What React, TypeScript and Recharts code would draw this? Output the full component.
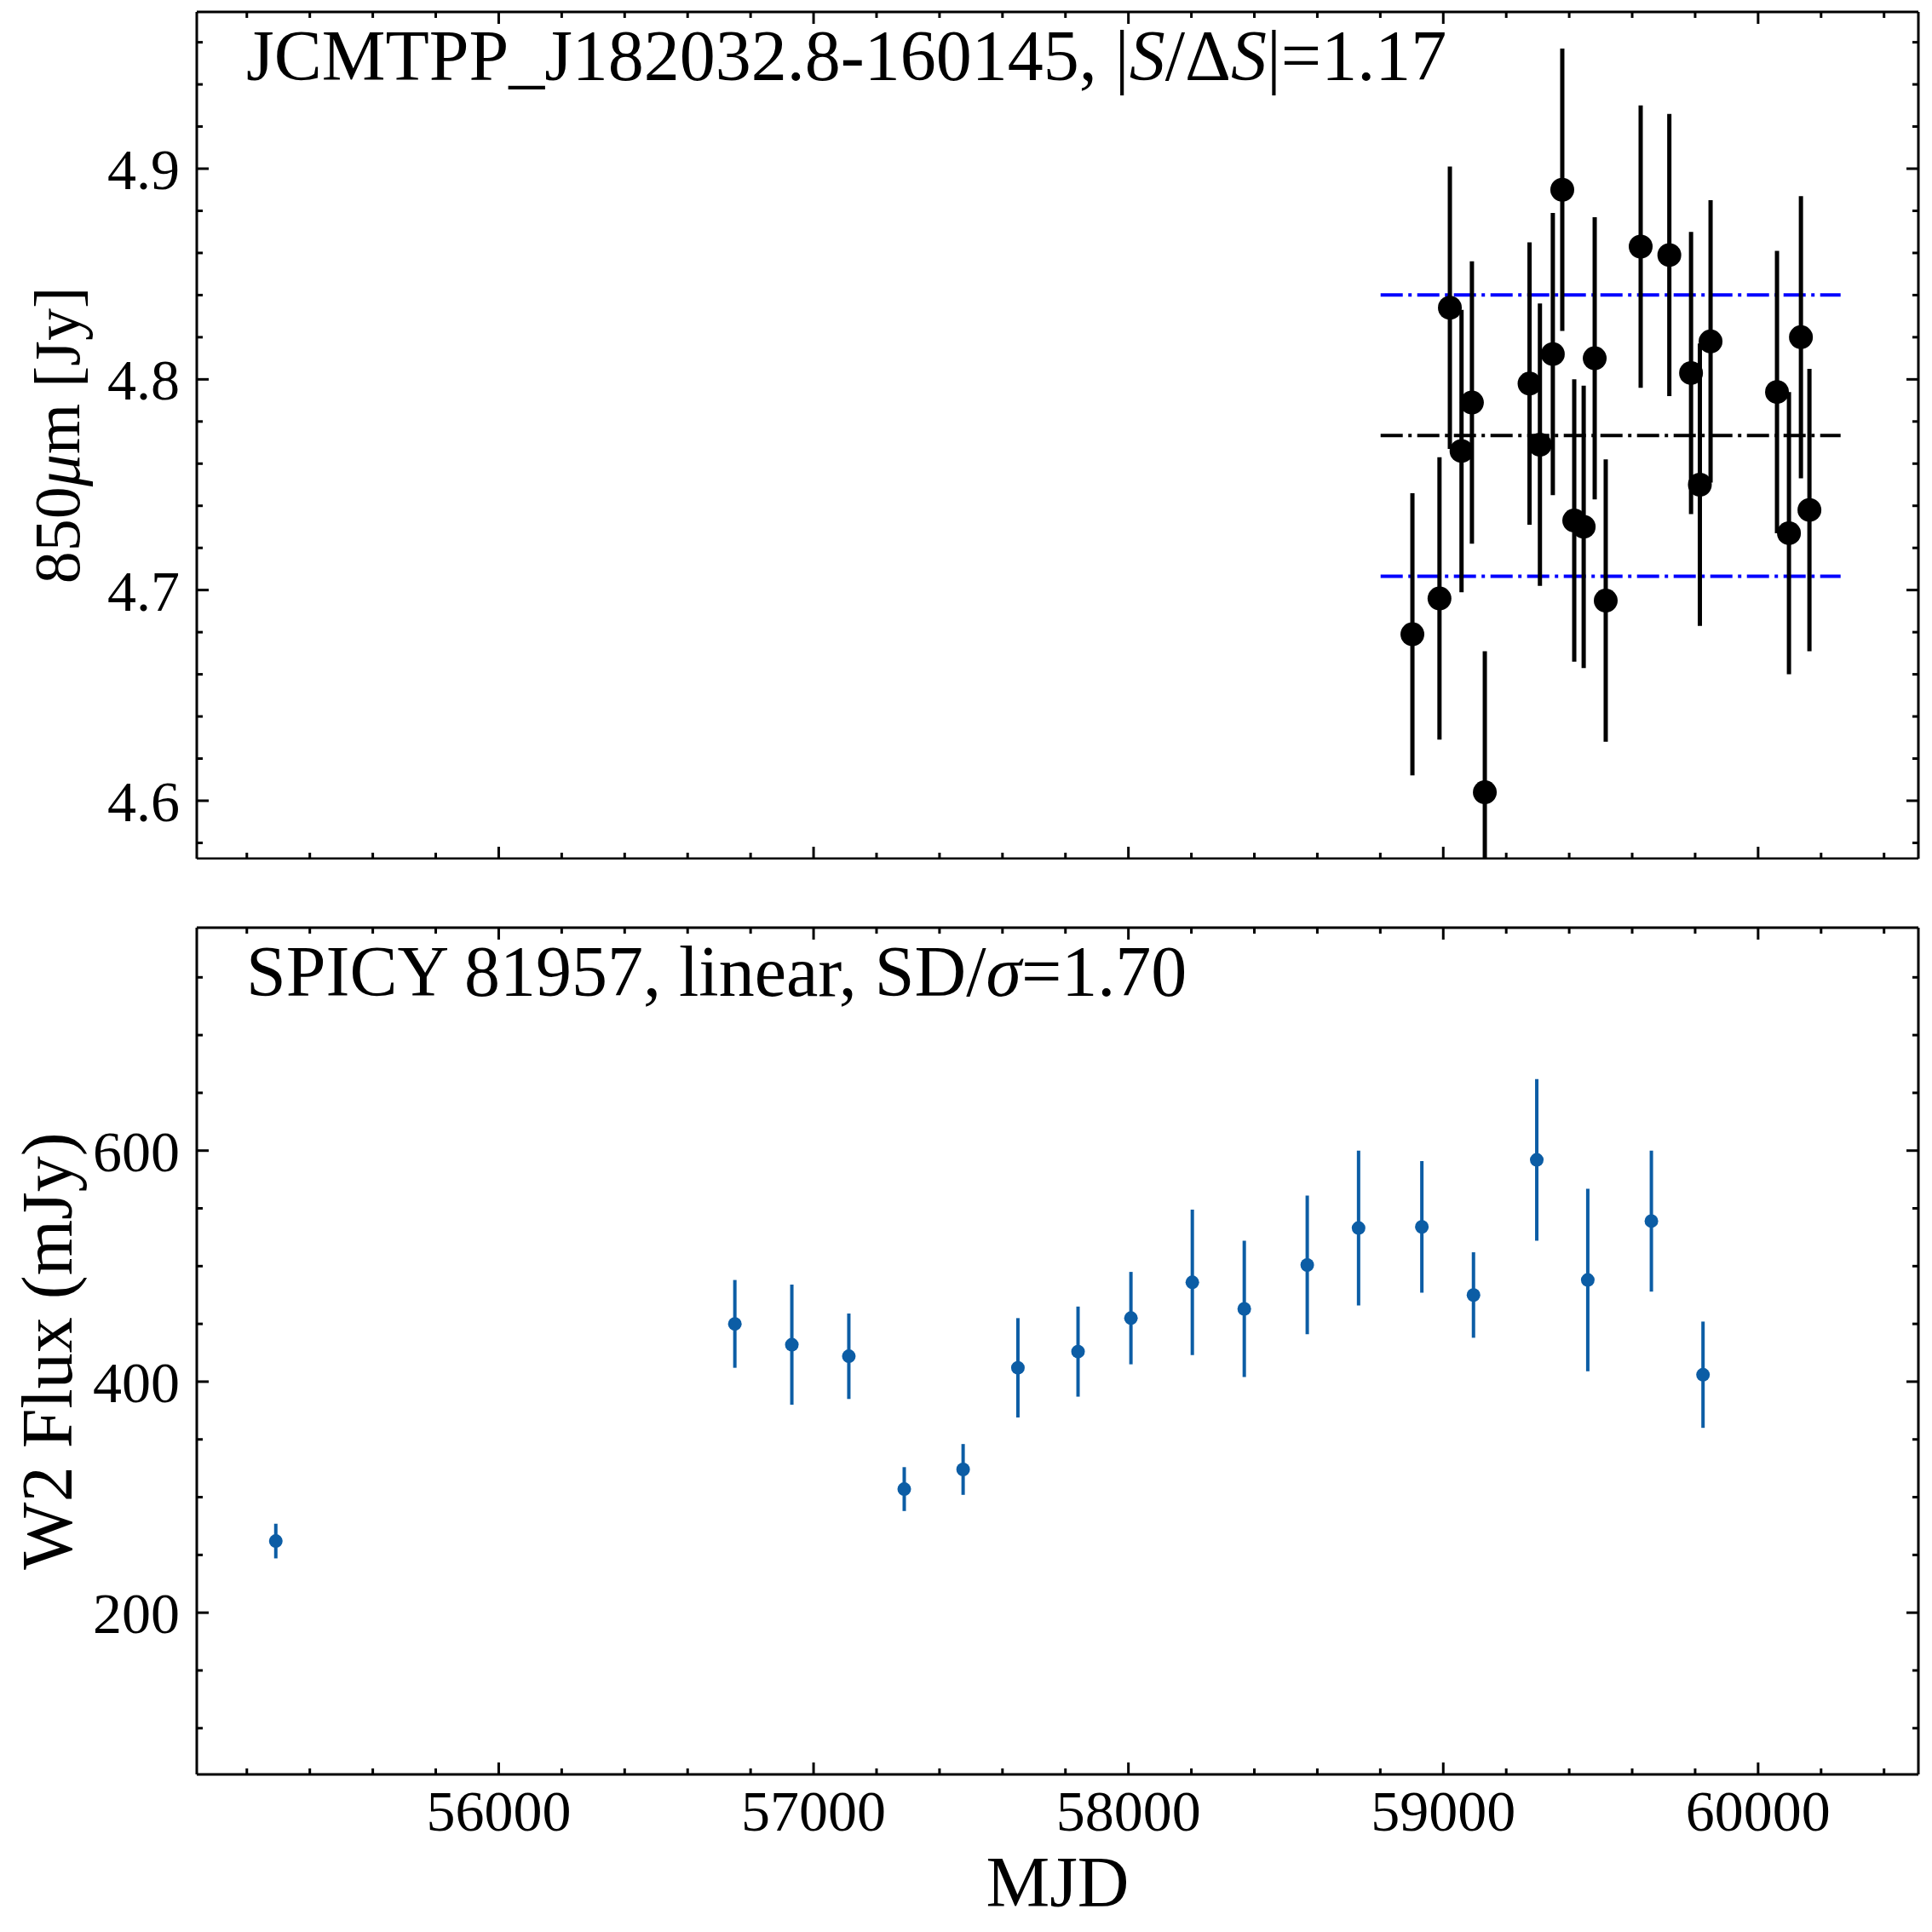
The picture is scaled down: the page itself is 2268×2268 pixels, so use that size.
import React from "react";
import {
  ErrorBar,
  ReferenceLine,
  Scatter,
  ScatterChart,
  XAxis,
  YAxis,
} from "recharts";

// --- 850um JCMT light curve (top panel) ---
const SUB_MJD = [
  58902, 58988, 59021, 59058, 59091, 59132, 59274, 59307, 59348, 59378, 59416,
  59446, 59481, 59516, 59627, 59718, 59787, 59815, 59849, 60060, 60098, 60136,
  60163,
];
const SUB_FLUX = [
  4.679, 4.696, 4.834, 4.766, 4.789, 4.604, 4.798, 4.769, 4.812, 4.890, 4.733,
  4.730, 4.810, 4.695, 4.863, 4.859, 4.803, 4.750, 4.818, 4.794, 4.727, 4.820,
  4.738,
];
const SUB_ERR = 0.067;
const SUB_MEAN = 4.7733;
const SUB_STD = 0.0668;
const SUB_LINE_RANGE = [58801, 60262];

// --- WISE W2 light curve (bottom panel) ---
const W2_MJD = [
  55292, 56750, 56931, 57112, 57288, 57475, 57649, 57840, 58008, 58203, 58368,
  58568, 58731, 58932, 59096, 59297, 59459, 59661, 59825,
];
const W2_FLUX = [
  262, 450, 432, 422, 307, 324, 412, 426, 455, 486, 463, 501, 533, 534, 475,
  592, 488, 539, 406,
];
const W2_ERR = [
  15, 38, 52, 37, 19, 22, 43, 39, 40, 63, 59, 60, 67, 57, 37, 70, 79, 61, 46,
];

// --- axes ---
const MJD_DOMAIN = [55041, 60509];
const MJD_MAJOR = [56000, 57000, 58000, 59000, 60000];
const MJD_MINOR = [
  55200, 55400, 55600, 55800, 56200, 56400, 56600, 56800, 57200, 57400, 57600,
  57800, 58200, 58400, 58600, 58800, 59200, 59400, 59600, 59800, 60200, 60400,
];
const SUB_DOMAIN = [4.5725, 4.9744];
const SUB_MAJOR = [4.6, 4.7, 4.8, 4.9];
const SUB_MINOR = [
  4.58, 4.62, 4.64, 4.66, 4.68, 4.72, 4.74, 4.76, 4.78, 4.82, 4.84, 4.86, 4.88,
  4.92, 4.94, 4.96,
];
const W2_DOMAIN = [60, 793];
const W2_MAJOR = [200, 400, 600];
const W2_MINOR = [100, 150, 250, 300, 350, 450, 500, 550, 650, 700, 750];

const FONT = "'Liberation Serif', 'DejaVu Serif', serif";
const W2_BLUE = "#0C5DA5";
const TICK_FS = 68;
const MAJOR_LEN = 14;
const MINOR_LEN = 7;

const subData = SUB_MJD.map((mjd, i) => ({ mjd, flux: SUB_FLUX[i], err: SUB_ERR }));
const w2Data = W2_MJD.map((mjd, i) => ({ mjd, flux: W2_FLUX[i], err: W2_ERR[i] }));

const mjdTicks = [...MJD_MAJOR, ...MJD_MINOR].sort((a, b) => a - b);
const subTicks = [...SUB_MAJOR, ...SUB_MINOR].sort((a, b) => a - b);
const w2Ticks = [...W2_MAJOR, ...W2_MINOR].sort((a, b) => a - b);

const isMajor = (majors: number[], v: number) =>
  majors.some((m) => Math.abs(m - v) < 1e-9);

// Inward matplotlib-style ticks; tickSize/tickMargin are 0 so x/y sit on the axis.
function makeTick(
  side: "bottom" | "top" | "left" | "right",
  majors: number[],
  label?: (v: number) => string,
) {
  return (props: any) => {
    const { x, y, payload } = props;
    const v = payload.value as number;
    const major = isMajor(majors, v);
    const len = major ? MAJOR_LEN : MINOR_LEN;
    let line;
    if (side === "bottom") line = <line x1={x} x2={x} y1={y} y2={y - len} />;
    else if (side === "top") line = <line x1={x} x2={x} y1={y} y2={y + len} />;
    else if (side === "left") line = <line x1={x} x2={x + len} y1={y} y2={y} />;
    else line = <line x1={x} x2={x - len} y1={y} y2={y} />;
    let text = null;
    if (label && major && side === "bottom") {
      text = (
        <text x={x} y={y + 66} textAnchor="middle" fontSize={TICK_FS} fontFamily={FONT} fill="#000">
          {label(v)}
        </text>
      );
    } else if (label && major && side === "left") {
      text = (
        <text x={x - 20} y={y + 24} textAnchor="end" fontSize={TICK_FS} fontFamily={FONT} fill="#000">
          {label(v)}
        </text>
      );
    }
    return (
      <g>
        <g stroke="#000" strokeWidth={3}>{line}</g>
        {text}
      </g>
    );
  };
}

const axisLine = { stroke: "#000", strokeWidth: 3 };
const titleStyle = { fontSize: 84, fontFamily: FONT, fill: "#000" };

const xCommon = {
  type: "number" as const,
  dataKey: "mjd",
  domain: MJD_DOMAIN,
  allowDataOverflow: true,
  ticks: mjdTicks,
  interval: 0 as const,
  height: 1,
  tickSize: 0,
  tickMargin: 0,
  tickLine: false,
  axisLine,
};

export default function App() {
  return (
    <div style={{ position: "absolute", left: 0, top: 0, width: 2268, height: 2268, background: "#fff" }}>
      {/* svg ends right at the lower frame so the clipped error bar stops there */}
      <div style={{ position: "absolute", left: 0, top: 0 }}>
        <ScatterChart width={2268} height={1009} margin={{ top: 13, right: 15, bottom: 0, left: 230 }}>
          <XAxis {...xCommon} tick={makeTick("bottom", MJD_MAJOR)} />
          <XAxis
            {...xCommon}
            xAxisId="top"
            orientation="top"
            tick={makeTick("top", MJD_MAJOR)}
            label={{
              content: ({ viewBox }: any) => (
                <text x={viewBox.x + 58} y={viewBox.y + 81} {...titleStyle}>
                  JCMTPP_J182032.8-160145, |<tspan fontStyle="italic">S</tspan>/Δ
                  <tspan fontStyle="italic">S</tspan>|=1.17
                </text>
              ),
            }}
          />
          <YAxis
            type="number"
            dataKey="flux"
            domain={SUB_DOMAIN}
            allowDataOverflow
            ticks={subTicks}
            interval={0}
            width={1}
            tickSize={0}
            tickMargin={0}
            tickLine={false}
            axisLine={axisLine}
            tick={makeTick("left", SUB_MAJOR, (v) => v.toFixed(1))}
            label={{
              content: ({ viewBox }: any) => {
                const cx = viewBox.x - 137;
                const cy = viewBox.y + viewBox.height / 2;
                return (
                  <text x={cx} y={cy} transform={`rotate(-90 ${cx} ${cy})`} textAnchor="middle" fontSize={76} fontFamily={FONT} fill="#000">
                    850<tspan fontStyle="italic">μ</tspan>m [Jy]
                  </text>
                );
              },
            }}
          />
          <YAxis
            yAxisId="right"
            orientation="right"
            type="number"
            domain={SUB_DOMAIN}
            allowDataOverflow
            ticks={subTicks}
            interval={0}
            width={1}
            tickSize={0}
            tickMargin={0}
            tickLine={false}
            axisLine={axisLine}
            tick={makeTick("right", SUB_MAJOR)}
          />
          <ReferenceLine
            segment={[{ x: SUB_LINE_RANGE[0], y: SUB_MEAN + SUB_STD }, { x: SUB_LINE_RANGE[1], y: SUB_MEAN + SUB_STD }]}
            stroke="#0000FF"
            strokeWidth={4}
            strokeDasharray="26 6.5 4 6.5"
          />
          <ReferenceLine
            segment={[{ x: SUB_LINE_RANGE[0], y: SUB_MEAN }, { x: SUB_LINE_RANGE[1], y: SUB_MEAN }]}
            stroke="#000"
            strokeWidth={4}
            strokeDasharray="26 6.5 4 6.5"
          />
          <ReferenceLine
            segment={[{ x: SUB_LINE_RANGE[0], y: SUB_MEAN - SUB_STD }, { x: SUB_LINE_RANGE[1], y: SUB_MEAN - SUB_STD }]}
            stroke="#0000FF"
            strokeWidth={4}
            strokeDasharray="26 6.5 4 6.5"
          />
          <Scatter
            data={subData}
            isAnimationActive={false}
            shape={(p: any) => <circle cx={p.cx} cy={p.cy} r={14} fill="#000" />}
          >
            <ErrorBar dataKey="err" direction="y" width={0} stroke="#000" strokeWidth={5} isAnimationActive={false} />
          </Scatter>
        </ScatterChart>
      </div>

      <div style={{ position: "absolute", left: 0, top: 1040 }}>
        <ScatterChart width={2268} height={1228} margin={{ top: 48, right: 15, bottom: 184, left: 230 }}>
          <XAxis
            {...xCommon}
            tick={makeTick("bottom", MJD_MAJOR, (v) => String(v))}
            label={{
              content: ({ viewBox }: any) => (
                <text x={viewBox.x + viewBox.width / 2} y={viewBox.y + 155} textAnchor="middle" fontSize={84} fontFamily={FONT} fill="#000">
                  MJD
                </text>
              ),
            }}
          />
          <XAxis
            {...xCommon}
            xAxisId="top"
            orientation="top"
            tick={makeTick("top", MJD_MAJOR)}
            label={{
              content: ({ viewBox }: any) => (
                <text x={viewBox.x + 58} y={viewBox.y + 81} {...titleStyle}>
                  SPICY 81957, linear, SD/<tspan fontStyle="italic">σ</tspan>=1.70
                </text>
              ),
            }}
          />
          <YAxis
            type="number"
            dataKey="flux"
            domain={W2_DOMAIN}
            allowDataOverflow
            ticks={w2Ticks}
            interval={0}
            width={1}
            tickSize={0}
            tickMargin={0}
            tickLine={false}
            axisLine={axisLine}
            tick={makeTick("left", W2_MAJOR, (v) => String(v))}
            label={{
              content: ({ viewBox }: any) => {
                const cx = viewBox.x - 146;
                const cy = viewBox.y + viewBox.height / 2;
                return (
                  <text x={cx} y={cy} transform={`rotate(-90 ${cx} ${cy})`} textAnchor="middle" fontSize={84} fontFamily={FONT} fill="#000">
                    W2 Flux (mJy)
                  </text>
                );
              },
            }}
          />
          <YAxis
            yAxisId="right"
            orientation="right"
            type="number"
            domain={W2_DOMAIN}
            allowDataOverflow
            ticks={w2Ticks}
            interval={0}
            width={1}
            tickSize={0}
            tickMargin={0}
            tickLine={false}
            axisLine={axisLine}
            tick={makeTick("right", W2_MAJOR)}
          />
          <Scatter
            data={w2Data}
            isAnimationActive={false}
            shape={(p: any) => <circle cx={p.cx} cy={p.cy} r={8} fill={W2_BLUE} />}
          >
            <ErrorBar dataKey="err" direction="y" width={0} stroke={W2_BLUE} strokeWidth={4} isAnimationActive={false} />
          </Scatter>
        </ScatterChart>
      </div>
    </div>
  );
}
